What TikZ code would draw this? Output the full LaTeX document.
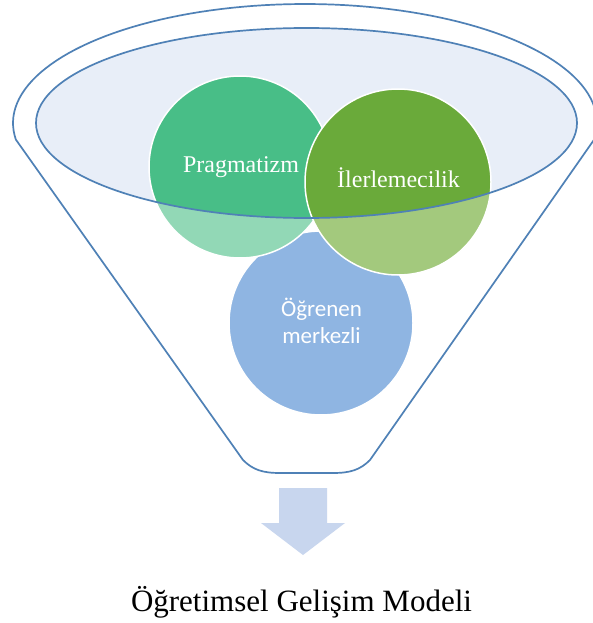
\documentclass[tikz,border=0pt]{standalone}
\usepackage{fontspec}
\setmainfont{Liberation Serif}
\newfontfamily\calib{Carlito}
\definecolor{pragdark}{RGB}{72,190,135}
\definecolor{praglight}{RGB}{146,216,182}
\definecolor{ilerdark}{RGB}{106,170,58}
\definecolor{ilerlight}{RGB}{163,201,125}
\definecolor{bluec}{RGB}{143,181,226}
\definecolor{ellfill}{RGB}{232,238,248}
\definecolor{fline}{RGB}{79,129,182}
\definecolor{arrowc}{RGB}{200,214,238}
\tikzset{
  rim/.style={draw=fline, line width=1.7pt},
  ringedge/.style={draw=white, line width=1.5pt},
  lbl/.style={text=white, anchor=base, inner sep=0pt, font=\fontsize{24}{28}\selectfont}
}
\begin{document}
\begin{tikzpicture}[x=1pt,y=-1pt]
\useasboundingbox (0,0) rectangle (593,623);
\fill[white] (0,0) rectangle (593,623);
% inner ellipse fill
\fill[ellfill] (306.5,123) ellipse (270.5 and 95);
% blue circle
\fill[bluec] (321,323) circle (92);
\draw[ringedge] (321,323) circle (92);
% Pragmatizm circle
\begin{scope}
  \fill[praglight] (240,167) circle (91);
  \clip (306.5,123) ellipse (270.5 and 95);
  \fill[pragdark] (240,167) circle (91);
\end{scope}
\draw[ringedge] (240,167) circle (91);
% Ilerlemecilik circle
\begin{scope}
  \fill[ilerlight] (398,182) circle (93);
  \clip (306.5,123) ellipse (270.5 and 95);
  \fill[ilerdark] (398,182) circle (93);
\end{scope}
\draw[ringedge] (398,182) circle (93);
% funnel lines
\draw[rim] (306.5,123) ellipse (270.5 and 95);
\draw[rim] plot[domain=172:368, samples=90] ({305+292*cos(\x)},{123+119*sin(\x)})
  -- (370,460) .. controls (360,470) and (350,473) .. (333,473)
  -- (280,473) .. controls (263,473) and (253,470) .. (243,460) -- cycle;
% labels
\node[lbl] (prag) at (241,172) {Pragmatizm};
\node[lbl] (iler) at (398.5,187) {İlerlemecilik};
\node[text=white, align=center, inner sep=0pt, font=\calib\fontsize{23}{27}\selectfont] (ogr) at (321.5,321) {Öğrenen\\merkezli};
% arrow
\fill[arrowc] (279,488) -- (327,488) -- (327,523) -- (345,523) -- (303,555) -- (261,523) -- (279,523) -- cycle;
% caption
\node[anchor=base, inner sep=0pt, font=\fontsize{31}{36}\selectfont] (cap) at (301.5,611) {Öğretimsel Gelişim Modeli};
\end{tikzpicture}
\end{document}
